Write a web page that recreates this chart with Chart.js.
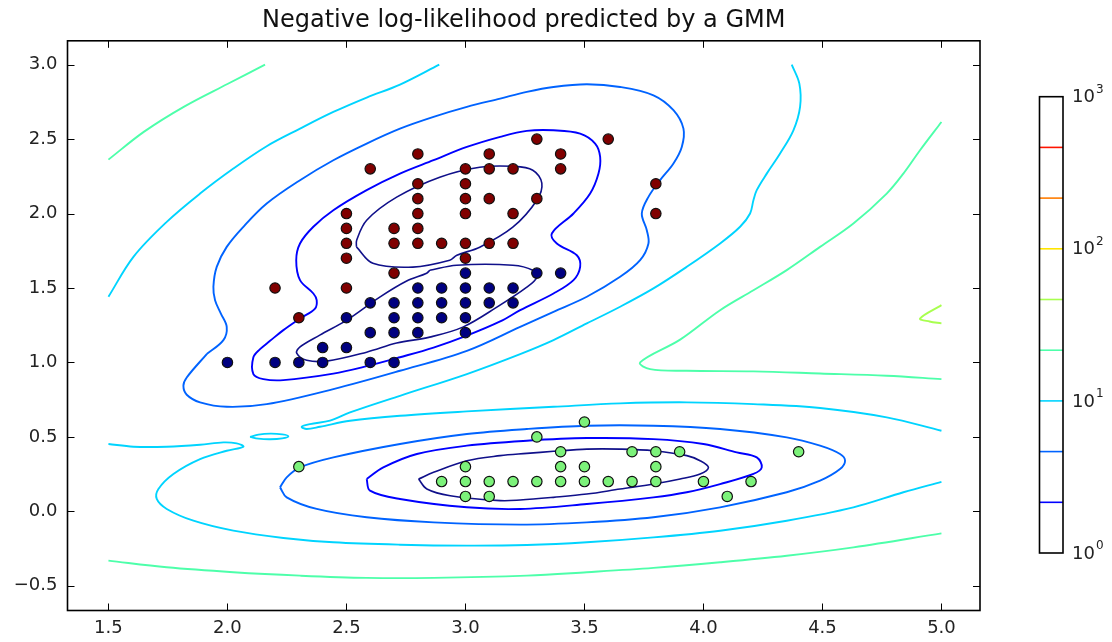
<!DOCTYPE html>
<html>
<head>
<meta charset="utf-8">
<script src="https://cdn.jsdelivr.net/npm/chart.js@4.4.1/dist/chart.umd.min.js"></script>
<style>
  body { margin: 0; background: #fff; }
  canvas { display: block; }
</style>
</head>
<body>
<canvas id="gmmChart" width="1112" height="642"></canvas>
<script>
// ticks
const xTicks = [1.5, 2.0, 2.5, 3.0, 3.5, 4.0, 4.5, 5.0];
const yTicks = [-0.5, 0.0, 0.5, 1.0, 1.5, 2.0, 2.5, 3.0];
const cbTicks = [1, 10, 100, 1000];

// contour levels (logspace 0..3, 10 levels) and their jet colours
const levels = [1, 2.154, 4.642, 10, 21.54, 46.42, 100, 215.4, 464.2, 1000];
const levelColors = ['#10108a', '#0000ff', '#0063ff', '#00d4ff', '#4dffaa', '#a8ff4f', '#ffe500', '#ff7d00', '#ff1400', '#7f0000'];

// scatter points, by predicted component
const compRed = [[2.8,2.4],[3.1,2.4],[2.6,2.3],[3.0,2.3],[3.1,2.3],[3.2,2.3],[2.8,2.2],[3.0,2.2],[2.8,2.1],[3.0,2.1],
  [3.1,2.1],[2.5,2.0],[2.8,2.0],[3.0,2.0],[3.2,2.0],[2.5,1.9],[2.7,1.9],[2.8,1.9],[2.5,1.8],[2.7,1.8],[2.8,1.8],
  [2.9,1.8],[3.0,1.8],[3.1,1.8],[3.2,1.8],[2.5,1.7],[3.0,1.7],[2.7,1.6],[2.2,1.5],[2.5,1.5],[2.3,1.3],[3.3,2.5],
  [3.6,2.5],[3.4,2.4],[3.4,2.3],[3.8,2.2],[3.3,2.1],[3.8,2.0]];
const compNavy = [[3.0,1.6],[3.3,1.6],[3.4,1.6],[2.8,1.5],[2.9,1.5],[3.0,1.5],[3.1,1.5],[3.2,1.5],[2.6,1.4],[2.7,1.4],
  [2.8,1.4],[2.9,1.4],[3.0,1.4],[3.1,1.4],[3.2,1.4],[2.5,1.3],[2.7,1.3],[2.8,1.3],[2.9,1.3],[3.0,1.3],[2.6,1.2],
  [2.7,1.2],[2.8,1.2],[3.0,1.2],[2.4,1.1],[2.5,1.1],[2.0,1.0],[2.2,1.0],[2.3,1.0],[2.4,1.0],[2.6,1.0],[2.7,1.0]];
const compGreen = [[3.5,0.6],[3.3,0.5],[3.4,0.4],[3.7,0.4],[3.8,0.4],[3.9,0.4],[4.4,0.4],[2.3,0.3],[3.0,0.3],[3.4,0.3],
  [3.5,0.3],[3.8,0.3],[2.9,0.2],[3.0,0.2],[3.1,0.2],[3.2,0.2],[3.3,0.2],[3.4,0.2],[3.5,0.2],[3.6,0.2],[3.7,0.2],
  [3.8,0.2],[4.0,0.2],[4.2,0.2],[3.0,0.1],[3.1,0.1],[4.1,0.1]];

// contour paths, [x, y]
const lvl0Upper = [[2.542,1.776],[2.611,1.666],[2.779,1.640],[2.934,1.686],[2.964,1.720],[3.060,1.774],[3.199,1.908],
  [3.300,2.089],[3.321,2.204],[3.283,2.291],[3.199,2.317],[3.060,2.311],[2.892,2.244],[2.711,2.110],[2.585,1.955],
  [2.543,1.821],[2.542,1.776]];
const lvl0Middle = [[2.850,1.619],[2.963,1.653],[3.199,1.653],[3.283,1.619],[3.300,1.572],[3.258,1.505],[3.132,1.371],
  [2.989,1.237],[2.850,1.170],[2.711,1.130],[2.585,1.069],[2.417,1.009],[2.333,1.015],[2.291,1.063],[2.304,1.103],
  [2.388,1.183],[2.501,1.284],[2.640,1.439],[2.753,1.547],[2.837,1.599],[2.850,1.619]];
const lvl0Lower = [[2.803,0.217],[2.866,0.262],[3.006,0.340],[3.146,0.374],[3.258,0.389],[3.370,0.403],[3.510,0.418],
  [3.650,0.418],[3.790,0.407],[3.930,0.374],[3.986,0.340],[4.021,0.295],[3.986,0.251],[3.902,0.217],[3.790,0.183],
  [3.650,0.150],[3.510,0.116],[3.370,0.094],[3.230,0.076],[3.146,0.072],[2.936,0.105],[2.838,0.150],[2.803,0.217]];
const lvl1Upper = [[2.179,1.145],[2.235,1.217],[2.305,1.295],[2.368,1.362],[2.375,1.419],[2.361,1.463],[2.305,1.553],
  [2.289,1.687],[2.305,1.799],[2.361,1.911],[2.445,2.022],[2.585,2.157],[2.725,2.268],[2.866,2.358],[3.006,2.447],
  [3.146,2.515],[3.258,2.555],[3.370,2.559],[3.482,2.537],[3.545,2.470],[3.566,2.380],[3.559,2.268],[3.524,2.134],
  [3.454,2.000],[3.363,1.866],[3.384,1.799],[3.468,1.720],[3.482,1.642],[3.454,1.553],[3.370,1.463],[3.230,1.351],
  [3.146,1.275],[3.006,1.180],[2.866,1.100],[2.725,1.035],[2.585,0.975],[2.445,0.925],[2.235,0.881],[2.151,0.888],
  [2.109,0.922],[2.109,1.034],[2.137,1.089],[2.179,1.145]];
const lvl1Lower = [[2.585,0.217],[2.655,0.295],[2.796,0.385],[3.006,0.441],[3.258,0.474],[3.510,0.492],[3.790,0.485],
  [4.000,0.452],[4.140,0.396],[4.224,0.362],[4.245,0.295],[4.210,0.251],[4.070,0.183],[3.930,0.128],[3.790,0.094],
  [3.510,0.049],[3.230,0.016],[3.006,0.027],[2.725,0.083],[2.599,0.139],[2.585,0.217]];
const lvl2Upper = [[1.913,1.056],[1.983,1.150],[1.997,1.239],[1.972,1.329],[1.948,1.418],[1.941,1.508],[1.955,1.642],
  [1.997,1.776],[2.067,1.911],[2.165,2.067],[2.305,2.224],[2.445,2.358],[2.585,2.470],[2.725,2.570],[2.866,2.649],
  [3.006,2.716],[3.146,2.772],[3.258,2.817],[3.370,2.850],[3.510,2.868],[3.650,2.850],[3.790,2.794],[3.874,2.694],
  [3.916,2.570],[3.909,2.447],[3.874,2.336],[3.818,2.224],[3.769,2.112],[3.741,2.000],[3.762,1.888],[3.769,1.799],
  [3.734,1.687],[3.650,1.575],[3.510,1.441],[3.370,1.340],[3.230,1.239],[3.006,1.078],[2.725,0.944],[2.445,0.821],
  [2.165,0.720],[1.997,0.702],[1.885,0.732],[1.829,0.783],[1.815,0.843],[1.829,0.899],[1.913,1.056]];
const lvl2Lower = [[2.221,0.161],[2.249,0.228],[2.305,0.295],[2.445,0.362],[2.725,0.452],[3.006,0.519],[3.258,0.553],
  [3.510,0.575],[3.790,0.575],[4.070,0.553],[4.350,0.497],[4.490,0.441],[4.574,0.385],[4.595,0.340],[4.574,0.284],
  [4.490,0.206],[4.350,0.128],[4.070,0.027],[3.790,-0.040],[3.510,-0.074],[3.230,-0.089],[2.866,-0.074],
  [2.585,-0.040],[2.375,0.016],[2.249,0.094],[2.221,0.161]];
const lvl3TopLeft = [[1.5,1.441],[1.605,1.709],[1.745,1.944],[1.885,2.134],[2.025,2.302],[2.165,2.452],[2.305,2.570],
  [2.445,2.682],[2.585,2.779],[2.725,2.866],[2.89,3.0]];
const lvl3Right = [[5.0,0.541],[4.770,0.631],[4.490,0.694],[4.210,0.720],[3.930,0.732],[3.650,0.725],[3.370,0.702],
  [3.006,0.671],[2.725,0.642],[2.515,0.608],[2.389,0.568],[2.333,0.553],[2.312,0.568],[2.347,0.586],[2.431,0.609],
  [2.515,0.664],[2.725,0.776],[3.006,0.922],[3.230,1.056],[3.370,1.150],[3.510,1.262],[3.650,1.374],[3.790,1.497],
  [3.930,1.642],[4.070,1.799],[4.154,1.911],[4.196,2.000],[4.210,2.089],[4.224,2.157],[4.266,2.268],[4.322,2.403],
  [4.378,2.559],[4.406,2.716],[4.403,2.872],[4.371,3.0]];
const lvl3Bottom = [[1.5,0.452],[1.605,0.434],[1.745,0.434],[1.885,0.447],[1.983,0.463],[2.039,0.456],[2.067,0.434],
  [1.997,0.407],[1.885,0.351],[1.773,0.251],[1.710,0.150],[1.703,0.083],[1.745,0.016],[1.857,-0.063],[2.025,-0.130],
  [2.235,-0.179],[2.445,-0.208],[2.725,-0.224],[3.006,-0.230],[3.258,-0.226],[3.510,-0.208],[3.790,-0.175],
  [4.070,-0.130],[4.350,-0.063],[4.630,0.027],[4.840,0.128],[5.0,0.198]];
const lvl3Islet = [[2.095,0.500],[2.13,0.515],[2.18,0.522],[2.23,0.517],[2.256,0.505],[2.23,0.490],[2.18,0.484],
  [2.13,0.488],[2.095,0.500]];
const lvl4TopLeft = [[1.5,2.362],[1.65,2.55],[1.82,2.72],[2.0,2.87],[2.158,3.0]];
const lvl4Right = [[5.0,2.615],[4.910,2.425],[4.840,2.268],[4.770,2.134],[4.630,1.933],[4.490,1.776],[4.350,1.620],
  [4.210,1.485],[4.070,1.351],[3.902,1.153],[3.734,1.0],[3.776,0.955],[3.930,0.944],[4.210,0.940],[4.490,0.926],
  [4.770,0.911],[5.0,0.888]];
const lvl4Bottom = [[1.5,-0.331],[1.745,-0.376],[2.025,-0.409],[2.305,-0.432],[2.585,-0.447],[2.866,-0.447],
  [3.258,-0.432],[3.510,-0.409],[3.790,-0.380],[4.070,-0.342],[4.350,-0.298],[4.630,-0.242],[5.0,-0.148]];
const lvl5Right = [[5.0,1.385],[4.91,1.295],[4.95,1.275],[5.0,1.262]];

const contours = [
  [0, lvl0Upper], [0, lvl0Middle], [0, lvl0Lower],
  [1, lvl1Upper], [1, lvl1Lower],
  [2, lvl2Upper], [2, lvl2Lower],
  [3, lvl3TopLeft], [3, lvl3Right], [3, lvl3Bottom], [3, lvl3Islet],
  [4, lvl4TopLeft], [4, lvl4Right], [4, lvl4Bottom],
  [5, lvl5Right]
];

function toXY(arr) { return arr.map(p => ({ x: p[0], y: p[1] })); }
function fmt(v) { return v < 0 ? '\u2212' + Math.abs(v).toFixed(1) : v.toFixed(1); }

var datasets = [];
// points first so they are drawn on top
[[compRed, '#800000'], [compNavy, '#000080'], [compGreen, '#7cf27a']].forEach(function (c) {
  datasets.push({
    data: toXY(c[0]), backgroundColor: c[1], borderColor: '#111', borderWidth: 1.2,
    pointRadius: 5.2, pointHoverRadius: 5.2, showLine: false, order: 0
  });
});
contours.forEach(function (c) {
  datasets.push({
    data: toXY(c[1]), showLine: true, borderColor: levelColors[c[0]],
    borderWidth: c[0] === 0 ? 1.6 : 1.9, pointRadius: 0, tension: 0.35, fill: false, order: 1
  });
});

// frame + inward ticks, like the matplotlib axes
const framePlugin = {
  id: 'frame',
  afterDatasetsDraw(chart) {
    const { ctx, chartArea: a, scales } = chart;
    ctx.save();
    ctx.strokeStyle = '#000';
    ctx.lineWidth = 1;
    xTicks.forEach(v => {
      const px = Math.round(scales.x.getPixelForValue(v)) + 0.5;
      ctx.beginPath();
      ctx.moveTo(px, a.bottom); ctx.lineTo(px, a.bottom - 7);
      ctx.moveTo(px, a.top); ctx.lineTo(px, a.top + 7);
      ctx.stroke();
    });
    yTicks.forEach(v => {
      const py = Math.round(scales.y.getPixelForValue(v)) + 0.5;
      ctx.beginPath();
      ctx.moveTo(a.left, py); ctx.lineTo(a.left + 7, py);
      ctx.moveTo(a.right, py); ctx.lineTo(a.right - 7, py);
      ctx.stroke();
    });
    ctx.lineWidth = 1.6;
    ctx.strokeRect(a.left, a.top, a.right - a.left, a.bottom - a.top);
    ctx.restore();
  }
};

// log colourbar at the right
const colorbarPlugin = {
  id: 'colorbar',
  afterDraw(chart) {
    const ctx = chart.ctx;
    const left = 1039.5, right = 1063, top = 96.7, bottom = 553;
    const lo = Math.log10(levels[0]), hi = Math.log10(levels[levels.length - 1]);
    const yOf = v => bottom - (Math.log10(v) - lo) / (hi - lo) * (bottom - top);
    ctx.save();
    ctx.lineWidth = 1.6;
    for (let i = 1; i < levels.length - 1; i++) {
      const py = yOf(levels[i]);
      ctx.strokeStyle = levelColors[i];
      ctx.beginPath(); ctx.moveTo(left, py); ctx.lineTo(right, py); ctx.stroke();
    }
    ctx.strokeStyle = '#000';
    ctx.strokeRect(left, top, right - left, bottom - top);
    ctx.fillStyle = '#222';
    ctx.textBaseline = 'middle';
    cbTicks.forEach(v => {
      const py = yOf(v);
      ctx.font = '18px "DejaVu Sans"';
      ctx.fillText('10', 1072, py + 1);
      const w = ctx.measureText('10').width;
      ctx.font = '12px "DejaVu Sans"';
      ctx.fillText(String(Math.round(Math.log10(v))), 1072 + w + 1, py - 7);
    });
    ctx.restore();
  }
};

const ctx = document.getElementById('gmmChart');
var gmmChart = new Chart(ctx, {
  type: 'scatter',
  data: { datasets: datasets },
  options: {
    responsive: false,
    animation: false,
    devicePixelRatio: 1,
    layout: { padding: { left: 0, right: 132, top: 0, bottom: 0 } },
    plugins: {
      legend: { display: false },
      tooltip: { enabled: false },
      title: {
        display: true, text: 'Negative log-likelihood predicted by a GMM', fullSize: false,
        color: '#111', font: { family: 'DejaVu Sans', size: 24, weight: 'normal' },
        padding: { top: 6, bottom: 6 }
      }
    },
    scales: {
      x: {
        type: 'linear', min: 1.328, max: 5.162,
        afterBuildTicks: s => { s.ticks = xTicks.map(v => ({ value: v })); },
        afterFit: s => { s.height = 31.5; },
        grid: { display: false, drawTicks: false }, border: { display: false },
        ticks: { callback: fmt, color: '#222', padding: 7, maxRotation: 0, autoSkip: false,
                 font: { family: 'DejaVu Sans', size: 18 } }
      },
      y: {
        type: 'linear', min: -0.666, max: 3.16,
        afterBuildTicks: s => { s.ticks = yTicks.map(v => ({ value: v })); },
        afterFit: s => { s.width = 67.5; },
        grid: { display: false, drawTicks: false }, border: { display: false },
        ticks: { callback: fmt, color: '#222', padding: 10, autoSkip: false,
                 font: { family: 'DejaVu Sans', size: 18 } }
      }
    }
  },
  plugins: [framePlugin, colorbarPlugin]
});
</script>
</body>
</html>
